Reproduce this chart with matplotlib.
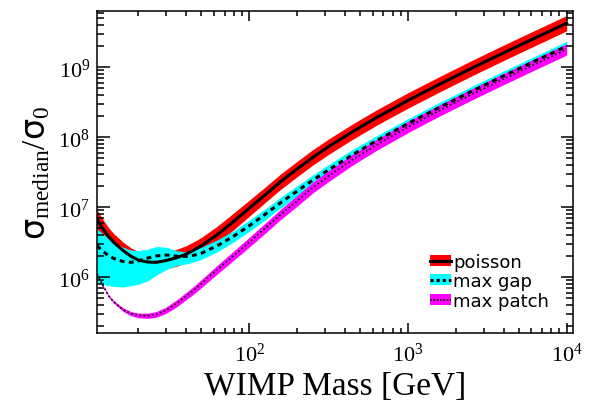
import matplotlib
matplotlib.use("Agg")
import matplotlib.pyplot as plt
import numpy as np
from matplotlib.lines import Line2D
from matplotlib.patches import Patch
from matplotlib.ticker import LogLocator, NullFormatter

plt.rcParams["font.family"] = ["Liberation Serif", "DejaVu Sans"]
plt.rcParams["mathtext.fontset"] = "custom"
plt.rcParams["mathtext.rm"] = "Liberation Serif"
plt.rcParams["mathtext.it"] = "Liberation Serif:italic"
plt.rcParams["mathtext.sf"] = "DejaVu Sans"
plt.rcParams["mathtext.default"] = "rm"

# WIMP mass grid [GeV]
mass = [11, 12, 13, 14, 16, 18, 20, 23, 26, 30, 35, 40, 45, 50, 63, 79,
        100, 126, 158, 200, 251, 316, 447, 631, 1000, 1585, 2512, 3981,
        6310, 10000]

# values, in decades: log10(sigma_median / sigma_0)
poisson_med = [6.825, 6.69, 6.58, 6.50, 6.385, 6.30, 6.247, 6.218, 6.214,
               6.24, 6.28, 6.33, 6.39, 6.45, 6.61, 6.79, 6.985, 7.178, 7.367,
               7.545, 7.711, 7.865, 8.079, 8.279, 8.526, 8.759, 8.985, 9.204,
               9.418, 9.63]
# half width of the red band, decades
poisson_band = [0.14, 0.135, 0.13, 0.125, 0.12, 0.12, 0.12, 0.12, 0.12, 0.12,
                0.12, 0.12, 0.12, 0.12, 0.12, 0.12, 0.115, 0.11, 0.11, 0.11,
                0.11, 0.11, 0.11, 0.11, 0.11, 0.11, 0.11, 0.11, 0.11, 0.11]

maxgap_med = [6.45, 6.37, 6.31, 6.27, 6.225, 6.214, 6.232, 6.275, 6.305,
              6.318, 6.30, 6.297, 6.315, 6.345, 6.45, 6.58, 6.735, 6.898,
              7.067, 7.23, 7.386, 7.535, 7.749, 7.949, 8.196, 8.429, 8.655,
              8.874, 9.088, 9.30]
maxgap_lo = [5.93, 5.90, 5.88, 5.87, 5.86, 5.88, 5.90, 5.95, 6.03, 6.11,
             6.17, 6.19, 6.22, 6.255, 6.365, 6.50, 6.655, 6.82, 6.99, 7.155,
             7.31, 7.46, 7.675, 7.875, 8.125, 8.36, 8.585, 8.804, 9.018, 9.23]
maxgap_hi = [6.69, 6.62, 6.55, 6.50, 6.43, 6.39, 6.38, 6.40, 6.44, 6.43,
             6.38, 6.36, 6.39, 6.43, 6.535, 6.66, 6.815, 6.975, 7.145, 7.305,
             7.46, 7.61, 7.825, 8.02, 8.265, 8.50, 8.725, 8.944, 9.158, 9.37]

maxpatch_med = [6.05, 5.88, 5.735, 5.65, 5.54, 5.48, 5.455, 5.45, 5.47, 5.53,
                5.63, 5.73, 5.82, 5.91, 6.11, 6.30, 6.50, 6.70, 6.90, 7.09,
                7.28, 7.445, 7.679, 7.889, 8.146, 8.384, 8.61, 8.829, 9.043,
                9.255]
maxpatch_band = [0.005, 0.01, 0.015, 0.018, 0.025, 0.03, 0.033, 0.037, 0.04,
                 0.045, 0.05, 0.052, 0.055, 0.057, 0.062, 0.066, 0.07, 0.072,
                 0.074, 0.076, 0.077, 0.078, 0.078, 0.079, 0.08, 0.08, 0.08,
                 0.08, 0.08, 0.08]

labels = ["poisson", "max gap", "max patch"]

pm, pb = np.array(poisson_med), np.array(poisson_band)
xm, xb = np.array(maxpatch_med), np.array(maxpatch_band)

fig = plt.figure(figsize=(5.92, 4.10), dpi=100)
ax = fig.add_axes([97 / 592, 76 / 410, 476 / 592, 322 / 410])

# bands first, lines on top
ax.fill_between(mass, 10 ** (pm - pb), 10 ** (pm + pb), color="#ff0000", lw=0)
ax.fill_between(mass, 10 ** np.array(maxgap_lo), 10 ** np.array(maxgap_hi),
                color="#00ffff", lw=0)
ax.fill_between(mass, 10 ** (xm - xb), 10 ** (xm + xb), color="#ff00ff", lw=0)

ax.plot(mass, 10 ** pm, color="black", lw=2.2)
ax.plot(mass, 10 ** np.array(maxgap_med), color="black", lw=2.2,
        dashes=(1.6, 1.4))
ax.plot(mass, 10 ** xm, color="black", lw=1.2, dashes=(1.0, 1.5))

ax.set_xscale("log")
ax.set_yscale("log")
ax.set_xlim(11, 1.096e4)
ax.set_ylim(1.6e5, 6.37e9)

ax.xaxis.set_minor_locator(LogLocator(base=10, subs=range(2, 10), numticks=20))
ax.yaxis.set_minor_locator(LogLocator(base=10, subs=range(2, 10), numticks=20))
ax.xaxis.set_minor_formatter(NullFormatter())
ax.yaxis.set_minor_formatter(NullFormatter())

ax.tick_params(which="both", direction="in", top=True, right=True, width=1.1,
               labelsize=16)
ax.tick_params(axis="x", which="major", length=7.2, pad=7)
ax.tick_params(axis="x", which="minor", length=3.6)
ax.tick_params(axis="y", which="major", length=9, pad=5)
ax.tick_params(axis="y", which="minor", length=4.8)
for sp in ax.spines.values():
    sp.set_linewidth(1.1)

ax.set_xlabel("WIMP Mass [GeV]", fontsize=24)
ax.xaxis.set_label_coords(0.5, -0.115)
ax.set_ylabel(r"$\mathsf{\sigma}_{\mathrm{median}}/\mathsf{\sigma}_{\mathrm{0}}$",
              fontsize=24)
ax.yaxis.set_label_coords(-0.095, 0.5)

# legend: colored box with the line style on top
handles = [
    (Patch(facecolor="#ff0000", lw=0), Line2D([], [], color="black", lw=2.2)),
    (Patch(facecolor="#00ffff", lw=0),
     Line2D([], [], color="black", lw=2.2, dashes=(1.0, 1.0))),
    (Patch(facecolor="#ff00ff", lw=0),
     Line2D([], [], color="black", lw=1.2, dashes=(1.0, 1.0))),
]
ax.legend(handles, labels, loc="upper left",
          bbox_to_anchor=(430 / 592, 1 - 254 / 410),
          bbox_transform=fig.transFigure, frameon=False, borderpad=0,
          borderaxespad=0, handlelength=1.15, handleheight=0.55,
          handletextpad=0.15, labelspacing=0.07,
          prop={"family": ["DejaVu Sans"], "size": 13})

fig.savefig("out.png", dpi=100)
